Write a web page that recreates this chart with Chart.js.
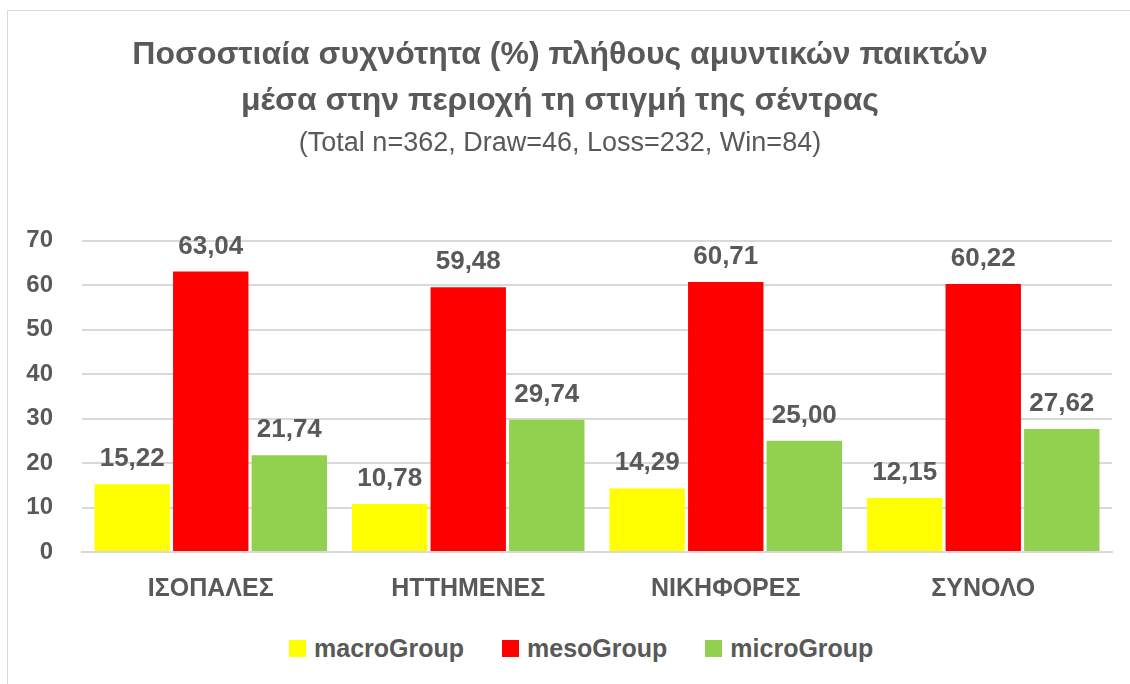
<!DOCTYPE html>
<html>
<head>
<meta charset="utf-8">
<script src="https://cdn.jsdelivr.net/npm/chart.js@4"></script>
<style>
  html, body { margin: 0; padding: 0; background: #fff; }
  #frame {
    position: absolute; left: 7px; top: 10px; width: 1130px; height: 680px;
    border: 1px solid #d9d9d9; box-sizing: border-box;
  }
  #wrap { position: absolute; left: 0; top: 0; width: 1122px; height: 607px; }
  #legend {
    position: absolute; left: 281px; top: 629px; height: 17px;
    display: flex; align-items: center; gap: 38px;
    font: bold 25px 'Liberation Sans', Arial, sans-serif; color: #595959;
  }
  .item { display: flex; align-items: center; }
  .box { width: 17px; height: 17px; margin-right: 8px; }
</style>
</head>
<body>
<div id="frame">
  <div id="wrap"><canvas id="chart"></canvas></div>
  <div id="legend"></div>
</div>
<script>
const categories = ["ΙΣΟΠΑΛΕΣ", "ΗΤΤΗΜΕΝΕΣ", "ΝΙΚΗΦΟΡΕΣ", "ΣΥΝΟΛΟ"];
const seriesNames = ["macroGroup", "mesoGroup", "microGroup"];
const macroGroup = [15.22, 10.78, 14.29, 12.15];
const mesoGroup = [63.04, 59.48, 60.71, 60.22];
const microGroup = [21.74, 29.74, 25.00, 27.62];
const yTicks = [0, 10, 20, 30, 40, 50, 60, 70];
const colors = ["#ffff00", "#ff0000", "#92d050"];

const textColor = "#595959";
const fontFamily = "'Liberation Sans', Arial, sans-serif";

// value labels above each bar, comma as decimal separator
const valueLabels = {
  id: "valueLabels",
  afterDatasetsDraw(chart) {
    const ctx = chart.ctx;
    ctx.save();
    ctx.font = "bold 26px " + fontFamily;
    ctx.fillStyle = textColor;
    ctx.textAlign = "center";
    ctx.textBaseline = "alphabetic";
    chart.data.datasets.forEach((ds, i) => {
      chart.getDatasetMeta(i).data.forEach((bar, j) => {
        const txt = ds.data[j].toFixed(2).replace(".", ",");
        ctx.fillText(txt, bar.x, bar.y - 18);
      });
    });
    ctx.restore();
  }
};

const chart = new Chart(document.getElementById("chart"), {
  type: "bar",
  data: {
    labels: categories,
    datasets: [macroGroup, mesoGroup, microGroup].map((d, i) => ({
      label: seriesNames[i], data: d, backgroundColor: colors[i]
    }))
  },
  options: {
    responsive: true,
    maintainAspectRatio: false,
    animation: false,
    layout: { padding: { left: 0, right: 18, top: 0, bottom: 0 } },
    datasets: { bar: { categoryPercentage: 0.915, barPercentage: 0.96 } },
    plugins: {
      title: {
        display: true,
        text: ["Ποσοστιαία συχνότητα (%) πλήθους αμυντικών παικτών", "μέσα στην περιοχή τη στιγμή της σέντρας"],
        color: textColor,
        font: { family: fontFamily, size: 32, weight: "bold", lineHeight: 1.44 },
        padding: { top: 21, bottom: 0 }
      },
      subtitle: {
        display: true,
        text: "(Total n=362, Draw=46, Loss=232, Win=84)",
        color: textColor,
        font: { family: fontFamily, size: 27 },
        padding: { top: 3, bottom: 81 }
      },
      legend: { display: false },
      tooltip: { enabled: false }
    },
    scales: {
      x: {
        grid: { display: false },
        border: { color: "#d9d9d9", width: 2 },
        ticks: { color: textColor, font: { family: fontFamily, size: 25, weight: "bold" }, padding: 14 }
      },
      y: {
        min: 0, max: 70,
        afterBuildTicks(axis) { axis.ticks = yTicks.map(v => ({ value: v })); },
        afterFit(axis) { axis.width = 74; },
        grid: { color: "#d9d9d9", lineWidth: 2, drawTicks: false },
        border: { display: false },
        ticks: { color: textColor, font: { family: fontFamily, size: 24, weight: "bold" }, padding: 29 }
      }
    }
  },
  plugins: [valueLabels]
});

const legendEl = document.getElementById("legend");
chart.data.datasets.forEach((ds) => {
  const item = document.createElement("div");
  item.className = "item";
  item.innerHTML = `<span class="box" style="background:${ds.backgroundColor}"></span><span>${ds.label}</span>`;
  legendEl.appendChild(item);
});
</script>
</body>
</html>
